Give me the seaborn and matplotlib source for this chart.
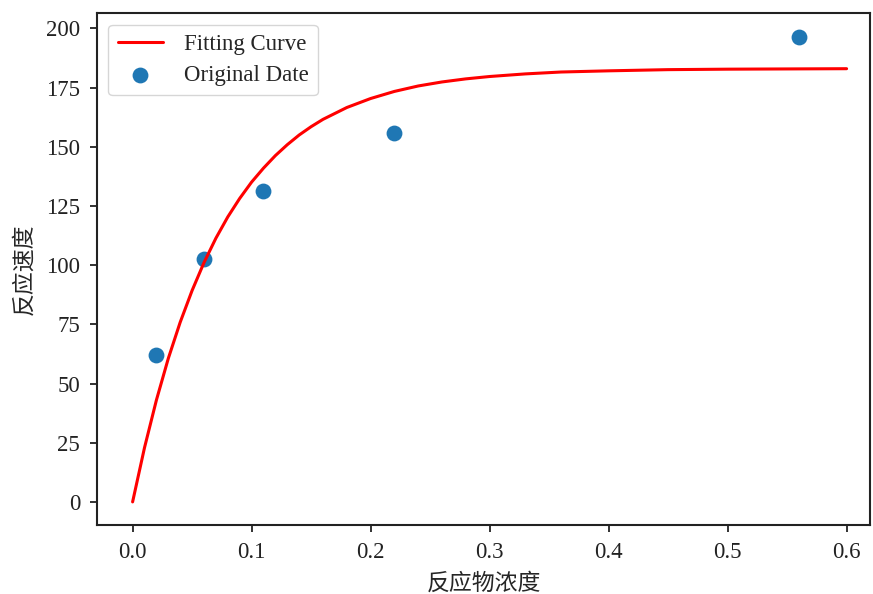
import numpy as np
import pandas as pd
import matplotlib
matplotlib.use('Agg')
import matplotlib.pyplot as plt
import seaborn as sns

# --- data ---
conc = [0.02, 0.06, 0.11, 0.22, 0.56]
rate = [62, 102.5, 131.5, 156, 196.5]

curve_x = [0, 0.01, 0.02, 0.03, 0.04, 0.05, 0.06, 0.07, 0.08, 0.09, 0.10,
           0.11, 0.12, 0.13, 0.14, 0.15, 0.16, 0.18, 0.20, 0.22, 0.24, 0.26,
           0.28, 0.30, 0.33, 0.36, 0.40, 0.45, 0.50, 0.55, 0.60]
curve_y = [0, 22.9, 43.0, 60.6, 75.9, 89.3, 101.1, 111.4, 120.4, 128.2, 135.1,
           141.0, 146.3, 150.9, 155.0, 158.5, 161.6, 166.6, 170.4, 173.4, 175.7, 177.4,
           178.7, 179.7, 180.8, 181.6, 182.1, 182.6, 182.8, 182.9, 183.0]

sns.set_style('ticks')
plt.rcParams['font.family'] = ['Liberation Serif', 'Noto Sans CJK SC', 'DejaVu Sans']
plt.rcParams['axes.unicode_minus'] = False

points_df = pd.DataFrame({'x': conc, 'y': rate})
curve_df = pd.DataFrame({'x': curve_x, 'y': curve_y})

fig = plt.figure(figsize=(8.73, 5.94), dpi=100)
ax = fig.add_axes([0.111, 0.116, 0.886, 0.862])

sns.lineplot(data=curve_df, x='x', y='y', ax=ax, color='red', linewidth=2.2,
             label='Fitting Curve')
sns.scatterplot(data=points_df, x='x', y='y', ax=ax, color='#1f77b4', s=130,
                edgecolor='#1f77b4', linewidth=0, label='Original Date')

ax.set_xlim(-0.03, 0.62)
ax.set_ylim(-9.8, 206.5)
ax.set_xticks([0.0, 0.1, 0.2, 0.3, 0.4, 0.5, 0.6])
ax.set_yticks([0, 25, 50, 75, 100, 125, 150, 175, 200])
ax.tick_params(labelsize=16.5, length=5, width=1.3, pad=7, colors='#222222')
for sp in ax.spines.values():
    sp.set_linewidth(1.5)
    sp.set_color('#222222')

ax.set_xlabel('反应物浓度', fontsize=16.5, labelpad=7)
ax.set_ylabel('反应速度', fontsize=16.5, labelpad=8)

ax.legend(loc='upper left', fontsize=16.5, frameon=True, borderaxespad=0.5,
          labelspacing=0.45, handletextpad=0.9)

fig.savefig('out.png', dpi=100)
